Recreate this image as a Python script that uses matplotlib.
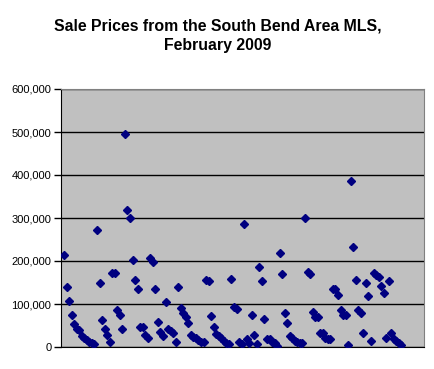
import matplotlib.pyplot as plt
import numpy as np

plt.rcParams['font.family'] = ['Liberation Sans', 'DejaVu Sans']

# sale prices (in $1000), in listing order
prices = [214, 139, 108, 74, 53, 43, 40, 26, 20, 16, 12, 10, 7,
          271, 148, 63, 42, 28, 11, 171, 171, 86, 74, 43,
          495, 319, 299, 202, 156, 135, 47, 47, 27, 21,
          206, 197, 135, 57, 36, 26, 104, 43, 38, 32, 11,
          139, 90, 78, 69, 55, 28, 24, 20, 16, 12, 11,
          156, 153, 72, 47, 30, 26, 20, 15, 10, 7,
          158, 94, 89, 11, 7, 286, 18, 9, 74, 28, 7,
          185, 153, 64, 18, 18, 12, 9, 2,
          219, 169, 78, 55, 26, 20, 15, 12, 9, 9,
          299, 174, 169, 81, 70, 69, 33, 33, 20, 18, 18,
          134, 136, 121, 86, 74, 74, 5,
          387, 233, 156, 86, 78, 32, 148, 119, 13,
          173, 167, 163, 143, 125, 20, 153, 32, 19, 13, 9, 5]
prices = np.array(prices) * 1000
idx = np.arange(1, len(prices) + 1)

yticks = [0, 100000, 200000, 300000, 400000, 500000, 600000]
ylabels = ["0", "100,000", "200,000", "300,000", "400,000", "500,000", "600,000"]

fig = plt.figure(figsize=(4.35, 3.69), dpi=100)
ax = fig.add_axes([61/435, 22/369, 363/435, 258/369])
ax.set_facecolor("#c0c0c0")

ax.plot(idx, prices, linestyle="none", marker="D", markersize=4.3,
        color="#000080", zorder=3)

ax.set_ylim(0, 600000)
ax.set_xlim(-0.2, 142.9)
ax.set_yticks(yticks)
ax.set_yticklabels(ylabels, fontsize=8)
ax.set_xticks([])
ax.tick_params(axis="y", direction="out", length=5, width=1, pad=2)
ax.yaxis.grid(True, color="black", linewidth=1)
ax.set_axisbelow(True)

for s in ["top", "right"]:
    ax.spines[s].set_color("#808080")
for s in ["left", "bottom"]:
    ax.spines[s].set_color("black")

fig.text(0.5, 1 - 35.5/369, "Sale Prices from the South Bend Area MLS,\nFebruary 2009",
         ha="center", va="center", fontsize=11.4, fontweight="bold", linespacing=1.35)

fig.savefig("out.png", dpi=100)
